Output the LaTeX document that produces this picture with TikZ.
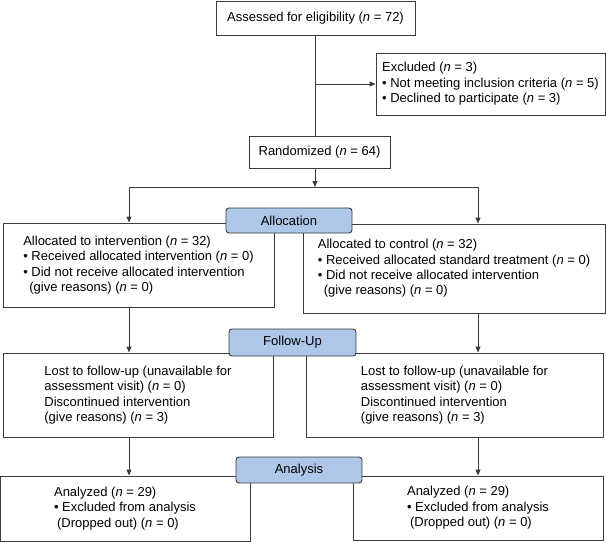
\documentclass[tikz,border=0pt]{standalone}
\usepackage{fontspec}
\setmainfont{Liberation Sans}
\usepackage{tikz}
\usetikzlibrary{arrows.meta,positioning,calc}
\definecolor{linegray}{RGB}{60,60,60}
\definecolor{phaseblue}{RGB}{174,199,232}
\newcommand{\nn}{\textit{n}}

\begin{document}
\begin{tikzpicture}[x=1pt, y=-1pt,
    box/.style={rectangle, draw=linegray, line width=0.9pt, inner sep=0pt, align=left,
        font=\fontsize{13}{15.4}\selectfont},
    phase/.style={rectangle, rounded corners=3pt, draw=linegray, line width=0.9pt, fill=phaseblue,
        inner sep=0pt, font=\fontsize{13}{15.4}\selectfont},
    conn/.style={linegray, line width=0.9pt},
    arr/.style={-{Triangle[length=6pt, width=5pt]}, linegray, line width=0.9pt}]

    \useasboundingbox (0,0) rectangle (606,542);

    % Enrollment
    \node[box, align=center, minimum width=199pt, minimum height=34pt] (assess) at (315.5,18)
        {Assessed for eligibility (\nn{} = 72)};
    \node[box, minimum width=229pt, minimum height=62pt] (excl) at (490.5,84)
        {Excluded (\nn{} = 3)\\ • Not meeting inclusion criteria (\nn{} = 5)\\ • Declined to participate (\nn{} = 3)};
    \node[box, align=center, minimum width=141pt, minimum height=32pt] (rand) at (319.5,152)
        {Randomized (\nn{} = 64)};

    % Allocation
    \node[box, minimum width=271pt, minimum height=84pt] (alloc1) at (138.5,265)
        {Allocated to intervention (\nn{} = 32)\\ • Received allocated intervention (\nn{} = 0)\\
         • Did not receive allocated intervention\\ \hspace*{6pt}(give reasons) (\nn{} = 0)};
    \node[box, minimum width=302pt, minimum height=89pt] (alloc2) at (454,268.5)
        {Allocated to control (\nn{} = 32)\\ • Received allocated standard treatment (\nn{} = 0)\\
         • Did not receive allocated intervention\\ \hspace*{6pt}(give reasons) (\nn{} = 0)};

    % Follow-up
    \node[box, minimum width=270pt, minimum height=84pt] (fu1) at (138,395)
        {Lost to follow-up (unavailable for\\ assessment visit) (\nn{} = 0)\\
         Discontinued intervention\\ (give reasons) (\nn{} = 3)};
    \node[box, minimum width=297pt, minimum height=84pt] (fu2) at (454.5,395)
        {Lost to follow-up (unavailable for\\ assessment visit) (\nn{} = 0)\\
         Discontinued intervention\\ (give reasons) (\nn{} = 3)};

    % Analysis
    \node[box, minimum width=250pt, minimum height=65pt] (an1) at (125,508.5)
        {Analyzed (\nn{} = 29)\\ • Excluded from analysis\\ \hspace*{3pt}(Dropped out) (\nn{} = 0)};
    \node[box, minimum width=250pt, minimum height=64pt] (an2) at (478,508)
        {Analyzed (\nn{} = 29)\\ • Excluded from analysis\\ \hspace*{3pt}(Dropped out) (\nn{} = 0)};

    % Phase labels
    \node[phase, minimum width=126pt, minimum height=25pt] (allocph) at (289,220.5) {Allocation};
    \node[phase, minimum width=127pt, minimum height=27pt] (fuph) at (292.5,342.5) {Follow-Up};
    \node[phase, minimum width=126pt, minimum height=26pt] (anph) at (299,470) {Analysis};

    % Connections
    \coordinate (colL) at (129,0);
    \coordinate (colR) at (478,0);
    \coordinate (split) at (315,187);

    \draw[conn] (assess) -- (assess |- rand.north);
    \draw[arr] (assess |- excl.west) -- (excl.west);
    \draw[arr] (split |- rand.south) -- (split);
    \draw[arr] (split) -| (colL |- alloc1.north);
    \draw[arr] (split) -| (colR |- alloc2.north);
    \foreach \c/\a/\b in {colL/alloc1/fu1, colL/fu1/an1, colR/alloc2/fu2, colR/fu2/an2} {
        \draw[arr] (\c |- \a.south) -- (\c |- \b.north);
    }
\end{tikzpicture}
\end{document}
